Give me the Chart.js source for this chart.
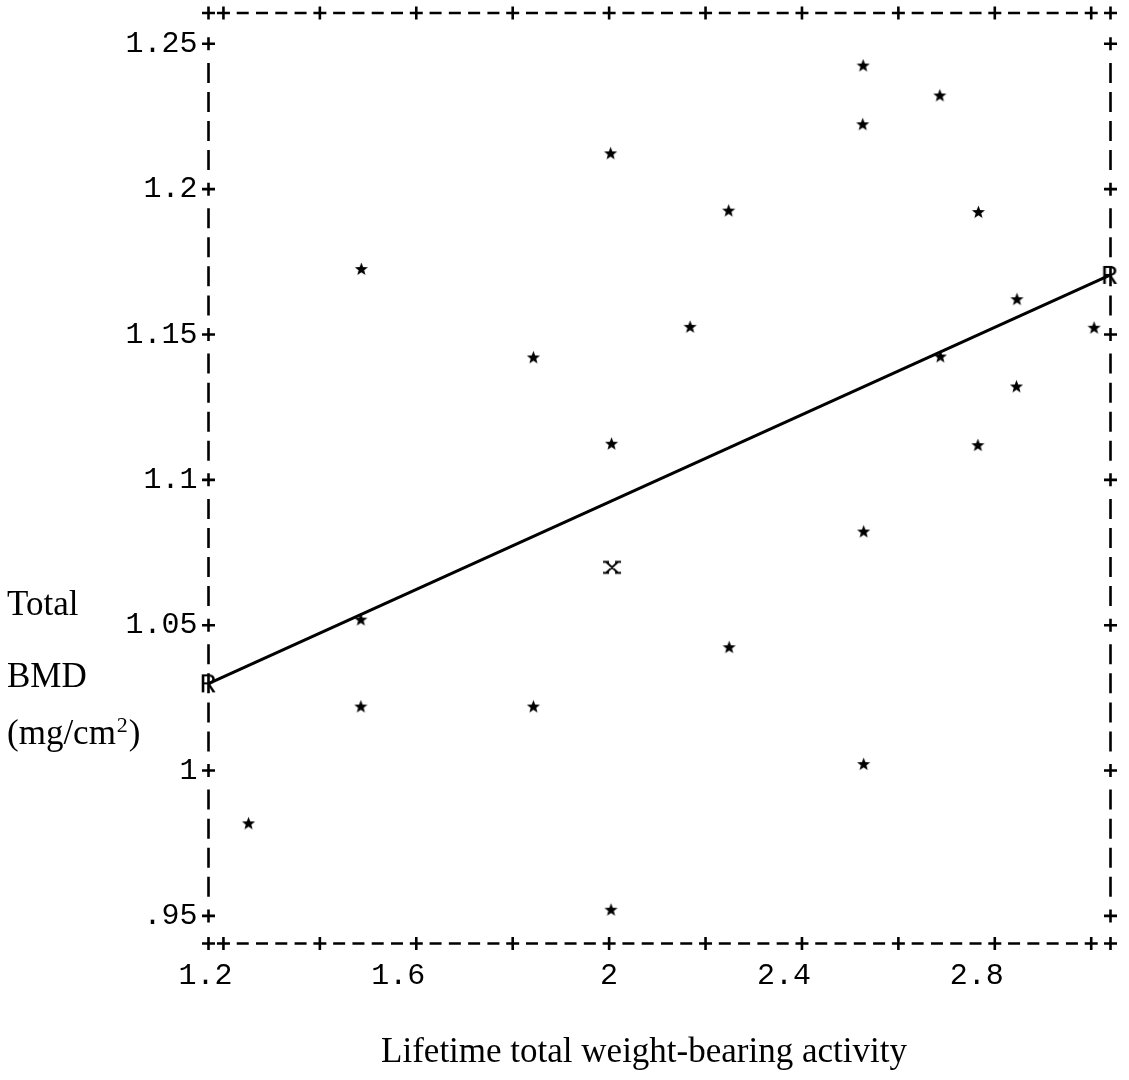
<!DOCTYPE html>
<html>
<head>
<meta charset="utf-8">
<script src="https://cdn.jsdelivr.net/npm/chart.js@4.4.0/dist/chart.umd.min.js"></script>
<style>
  html, body { margin: 0; padding: 0; background: #fff; }
  #wrap { width: 1129px; height: 1080px; }
</style>
</head>
<body>
<div id="wrap"><canvas id="plot" width="1129" height="1080"></canvas></div>
<script>
// lifetime weight-bearing activity vs total BMD
const activity = [2.003, 1.486, 1.843, 2.005, 2.527, 2.686, 2.526, 2.248, 2.766, 2.846, 2.168, 3.006,
                  2.687, 2.845, 2.765, 1.485, 1.485, 1.843, 1.252, 2.004, 2.528, 2.249, 2.528];
const bmd = [1.2125, 1.1727, 1.1423, 1.1126, 1.2427, 1.2324, 1.2225, 1.1928, 1.1923, 1.1623, 1.1528, 1.1525,
             1.1426, 1.1323, 1.1121, 1.0521, 1.0222, 1.0222, 0.982, 0.9523, 1.0824, 1.0426, 1.0024];

// the one point plotted with an "x"
const markedX = [2.006];
const markedY = [1.0699];

// regression line, drawn between the two "R" symbols
const fitX = [1.17, 3.04];
const fitY = [1.03, 1.1705];

const xTicks = [1.2, 1.4, 1.6, 1.8, 2.0, 2.2, 2.4, 2.6, 2.8, 3.0];
const xTickLabels = ["1.2", "", "1.6", "", "2", "", "2.4", "", "2.8", ""];
const yTicks = [0.95, 1.0, 1.05, 1.1, 1.15, 1.2, 1.25];
const yTickLabels = [".95", "1", "1.05", "1.1", "1.15", "1.2", "1.25"];

const MONO = "'Liberation Mono', 'DejaVu Sans Mono', monospace";
const SERIF = "'Liberation Serif', 'DejaVu Serif', serif";

// small offscreen canvases used as point symbols
function glyph(w, h, draw) {
  const c = document.createElement("canvas");
  c.width = w;
  c.height = h;
  draw(c.getContext("2d"), w, h);
  return c;
}

const starMark = glyph(15, 15, (g, w, h) => {
  g.fillStyle = "#000";
  g.beginPath();
  for (let i = 0; i < 10; i++) {
    const r = i % 2 ? 2.9 : 6.9;
    const ang = -Math.PI / 2 + i * Math.PI / 5;
    g.lineTo(w / 2 + r * Math.cos(ang), h / 2 + 0.8 + r * Math.sin(ang));
  }
  g.closePath();
  g.fill();
});

// courier-like lower case x with little serifs
const xMark = glyph(22, 16, (g, w, h) => {
  const cx = w / 2, cy = h / 2;
  g.strokeStyle = "#000";
  g.lineWidth = 1.8;
  g.beginPath();
  g.moveTo(cx - 6, cy - 5.5); g.lineTo(cx + 6, cy + 5.5);
  g.moveTo(cx + 6, cy - 5.5); g.lineTo(cx - 6, cy + 5.5);
  g.moveTo(cx - 9, cy - 5.5); g.lineTo(cx - 3, cy - 5.5);
  g.moveTo(cx + 3, cy - 5.5); g.lineTo(cx + 9, cy - 5.5);
  g.moveTo(cx - 9, cy + 5.5); g.lineTo(cx - 3, cy + 5.5);
  g.moveTo(cx + 3, cy + 5.5); g.lineTo(cx + 9, cy + 5.5);
  g.stroke();
});

const rMark = glyph(24, 26, (g, w, h) => {
  g.font = "28px " + MONO;
  g.fillStyle = "#000";
  const m = g.measureText("R");
  const gx = (w - (m.actualBoundingBoxRight + m.actualBoundingBoxLeft)) / 2 + m.actualBoundingBoxLeft;
  const gy = (h - (m.actualBoundingBoxAscent + m.actualBoundingBoxDescent)) / 2 + m.actualBoundingBoxAscent;
  g.fillText("R", gx, gy);
});

const COL = 0.04;  // one print column on x
const ROW = 0.01;  // one print row on y

function plus(ctx, px, py) {
  ctx.lineWidth = 2.6;
  ctx.beginPath();
  ctx.moveTo(px - 6.5, py); ctx.lineTo(px + 6.5, py);
  ctx.moveTo(px, py - 6.5); ctx.lineTo(px, py + 6.5);
  ctx.stroke();
}

const printerFrame = {
  id: "printerFrame",
  beforeDatasetsDraw(chart) {
    const { ctx, chartArea: a, scales: { x, y } } = chart;
    ctx.save();
    ctx.strokeStyle = "#000";
    ctx.fillStyle = "#000";

    // corners
    plus(ctx, a.left, a.top); plus(ctx, a.right, a.top);
    plus(ctx, a.left, a.bottom); plus(ctx, a.right, a.bottom);

    // top and bottom: +----+----+
    xTicks.forEach((v, i) => {
      const px = x.getPixelForValue(v);
      plus(ctx, px, a.top);
      plus(ctx, px, a.bottom);
      if (i < xTicks.length - 1) {
        ctx.lineWidth = 2.4;
        for (let k = 1; k <= 4; k++) {
          const dx = x.getPixelForValue(v + k * COL);
          ctx.beginPath();
          ctx.moveTo(dx - 6, a.top); ctx.lineTo(dx + 6, a.top);
          ctx.moveTo(dx - 6, a.bottom); ctx.lineTo(dx + 6, a.bottom);
          ctx.stroke();
        }
      }
    });

    // left and right: + | | | | +
    yTicks.forEach((v, i) => {
      const py = y.getPixelForValue(v);
      plus(ctx, a.left, py);
      plus(ctx, a.right, py);
      if (i < yTicks.length - 1) {
        ctx.lineWidth = 2.6;
        for (let k = 1; k <= 4; k++) {
          const dy = y.getPixelForValue(v + k * ROW);
          ctx.beginPath();
          ctx.moveTo(a.left, dy - 10); ctx.lineTo(a.left, dy + 10);
          ctx.moveTo(a.right, dy - 10); ctx.lineTo(a.right, dy + 10);
          ctx.stroke();
        }
      }
    });

    // tick labels
    ctx.font = "30px " + MONO;
    ctx.textAlign = "right";
    ctx.textBaseline = "alphabetic";
    yTicks.forEach((v, i) => {
      ctx.fillText(yTickLabels[i], a.left - 11, y.getPixelForValue(v) + 8);
    });
    xTicks.forEach((v, i) => {
      if (xTickLabels[i]) ctx.fillText(xTickLabels[i], x.getPixelForValue(v) + 9, a.bottom + 40);
    });

    // axis titles
    ctx.textAlign = "left";
    ctx.font = "35px " + SERIF;
    ctx.fillText("Total", 7, 615);
    ctx.fillText("BMD", 7, 687);
    let tx = 7;
    ctx.fillText("(mg/cm", tx, 744);
    tx += ctx.measureText("(mg/cm").width;
    ctx.font = "22px " + SERIF;
    ctx.fillText("2", tx + 1, 732);
    tx += ctx.measureText("2").width + 2;
    ctx.font = "35px " + SERIF;
    ctx.fillText(")", tx, 744);

    ctx.textAlign = "center";
    ctx.fillText("Lifetime total weight-bearing activity", 644, 1062);
    ctx.restore();
  }
};

const toPoints = (xs, ys) => xs.map((v, i) => ({ x: v, y: ys[i] }));

new Chart(document.getElementById("plot"), {
  type: "scatter",
  data: {
    datasets: [
      {
        label: "Fit",
        data: toPoints(fitX, fitY),
        showLine: true,
        borderColor: "#000",
        borderWidth: 3,
        pointStyle: rMark,
        pointRadius: 10,
        clip: false,
        order: 0
      },
      {
        label: "Subjects",
        data: toPoints(activity, bmd),
        pointStyle: starMark,
        pointRadius: 7,
        clip: false,
        order: 1
      },
      {
        label: "Marked",
        data: toPoints(markedX, markedY),
        pointStyle: xMark,
        pointRadius: 8,
        clip: false,
        order: 1
      }
    ]
  },
  options: {
    responsive: false,
    animation: false,
    devicePixelRatio: 1,
    layout: { padding: { left: 208.5, right: 18.5, top: 12.5, bottom: 136.5 } },
    plugins: { legend: { display: false }, tooltip: { enabled: false } },
    scales: {
      x: { type: "linear", min: 1.169, max: 3.04, display: false },
      y: { type: "linear", min: 0.9405, max: 1.2606, display: false }
    }
  },
  plugins: [printerFrame]
});
</script>
</body>
</html>
